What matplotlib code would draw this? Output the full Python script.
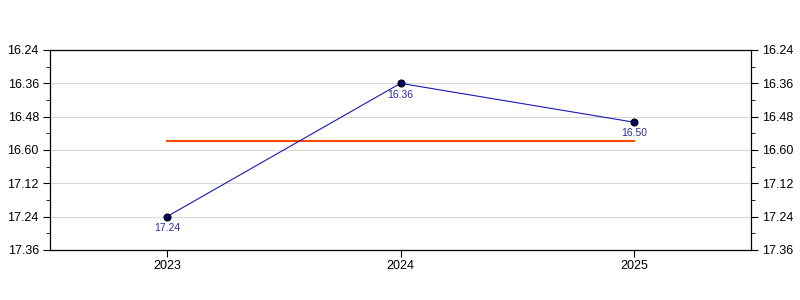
import matplotlib
matplotlib.use("Agg")
import matplotlib.pyplot as plt
from matplotlib.ticker import FixedLocator, FixedFormatter

years = [2023, 2024, 2025]
times = ["17.24", "16.36", "16.50"]
tick_labels = ["16.24", "16.36", "16.48", "16.60", "17.12", "17.24", "17.36"]

line_color = '#1a1ab0'
avg_color = '#ff4a00'
label_color = '#2a2aa0'


def to_seconds(t):
  m, s = t.split(".")
  return int(m) * 60 + int(s)


secs = [to_seconds(t) for t in times]
avg = sum(secs) / len(secs)
tick_secs = [984 + 12 * i for i in range(len(tick_labels))]

plt.rcParams['font.family'] = ['Liberation Sans', 'DejaVu Sans']

fig = plt.figure(figsize=(8, 3), dpi=100)
ax = fig.add_axes([50 / 800, 50 / 300, 701 / 800, 200 / 300])

ax.plot(years, secs, color=line_color, linewidth=0.8, zorder=3)
ax.plot(years, secs, 'o', color='#000066', markeredgecolor='black',
        markersize=5, markeredgewidth=0.8, zorder=4)
ax.plot([years[0], years[-1]], [avg, avg], color=avg_color, linewidth=1.5, zorder=2)

for x, y, t in zip(years, secs, times):
  ax.annotate(t, (x, y), xytext=(0, -4.5), textcoords='offset points',
              ha='center', va='top', fontsize=7.5, color=label_color)

ax.set_xlim(2022.5, 2025.5)
ax.set_xticks(years)
ax.set_xticklabels([str(y) for y in years])

ax.set_ylim(tick_secs[-1], tick_secs[0])
ax.yaxis.set_major_locator(FixedLocator(tick_secs))
ax.yaxis.set_major_formatter(FixedFormatter(tick_labels))
ax.yaxis.set_minor_locator(FixedLocator([s + 6 for s in tick_secs[:-1]]))
ax.tick_params(axis='y', which='both', left=True, right=True,
               labelleft=True, labelright=True, direction='out')
ax.tick_params(axis='y', which='major', length=5, labelsize=9, pad=3)
ax.tick_params(axis='y', which='minor', length=3)
ax.tick_params(axis='x', length=5, labelsize=9, pad=2)

ax.grid(axis='y', color='#d8d8d8', linewidth=0.8)
ax.set_axisbelow(True)
for sp in ax.spines.values():
  sp.set_linewidth(0.9)

fig.savefig("out.png", dpi=100)
